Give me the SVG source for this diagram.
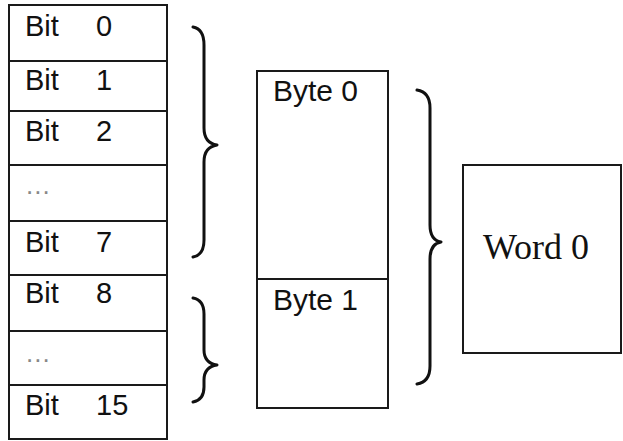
<svg xmlns="http://www.w3.org/2000/svg" width="623" height="441" viewBox="0 0 623 441">
  <style>
    .box { fill: #ffffff; stroke: #1a1a1a; stroke-width: 2; }
    .sep { stroke: #1a1a1a; stroke-width: 2; }
    .lbl { font-family: "Liberation Sans", Arial, sans-serif; font-size: 29px; fill: #111111; }
    .byte { font-family: "Liberation Sans", Arial, sans-serif; font-size: 30px; fill: #111111; }
    .dots { font-family: "Liberation Sans", Arial, sans-serif; font-size: 26px; fill: #888888; letter-spacing: 1px; }
    .serif { font-family: "Liberation Serif", "Times New Roman", serif; font-size: 36px; fill: #111111; }
    .brace { fill: none; stroke: #111111; stroke-width: 3; stroke-linecap: round; stroke-linejoin: round; }
  </style>
  <rect width="623" height="441" fill="#ffffff"/>

  <!-- bit column -->
  <g id="bits">
    <rect class="box" x="9" y="5" width="158" height="434"/>
    <line class="sep" x1="9" y1="61" x2="167" y2="61"/>
    <line class="sep" x1="9" y1="111" x2="167" y2="111"/>
    <line class="sep" x1="9" y1="165" x2="167" y2="165"/>
    <line class="sep" x1="9" y1="221" x2="167" y2="221"/>
    <line class="sep" x1="9" y1="275" x2="167" y2="275"/>
    <line class="sep" x1="9" y1="331" x2="167" y2="331"/>
    <line class="sep" x1="9" y1="385" x2="167" y2="385"/>
  </g>
  <g id="bit0"><text class="lbl" y="36"><tspan x="25">Bit</tspan><tspan x="96">0</tspan></text></g>
  <g id="bit1"><text class="lbl" y="90"><tspan x="25">Bit</tspan><tspan x="96">1</tspan></text></g>
  <g id="bit2"><text class="lbl" y="141"><tspan x="25">Bit</tspan><tspan x="96">2</tspan></text></g>
  <g id="bits-gap-a"><text class="dots" x="26" y="194">...</text></g>
  <g id="bit7"><text class="lbl" y="252"><tspan x="25">Bit</tspan><tspan x="96">7</tspan></text></g>
  <g id="bit8"><text class="lbl" y="303"><tspan x="25">Bit</tspan><tspan x="96">8</tspan></text></g>
  <g id="bits-gap-b"><text class="dots" x="26" y="362">...</text></g>
  <g id="bit15"><text class="lbl" y="415"><tspan x="25">Bit</tspan><tspan x="96">15</tspan></text></g>

  <!-- byte column -->
  <g id="byte0">
    <rect class="box" x="257" y="71" width="131" height="208"/>
    <text class="byte" x="273" y="101">Byte 0</text>
  </g>
  <g id="byte1">
    <rect class="box" x="257" y="279" width="131" height="129"/>
    <text class="byte" x="273" y="310">Byte 1</text>
  </g>

  <!-- word -->
  <g id="word0">
    <rect class="box" x="463" y="165" width="158" height="188"/>
    <text class="serif" x="483" y="259">Word 0</text>
  </g>

  <!-- grouping braces -->
  <g id="connectors">
    <path class="brace" d="M193,27 Q204,29 204,45 L204,128 Q204,143 217,145 Q204,147 204,162 L204,240 Q204,255 193,257"/>
    <path class="brace" d="M193,298 Q204,300 204,314 L204,350 Q204,363 217,365 Q204,367 204,380 L204,387 Q204,400 193,402"/>
    <path class="brace" d="M417,90 Q430,92 430,108 L430,225 Q430,240 441,242 Q430,244 430,259 L430,366 Q430,382 417,384"/>
  </g>
</svg>
